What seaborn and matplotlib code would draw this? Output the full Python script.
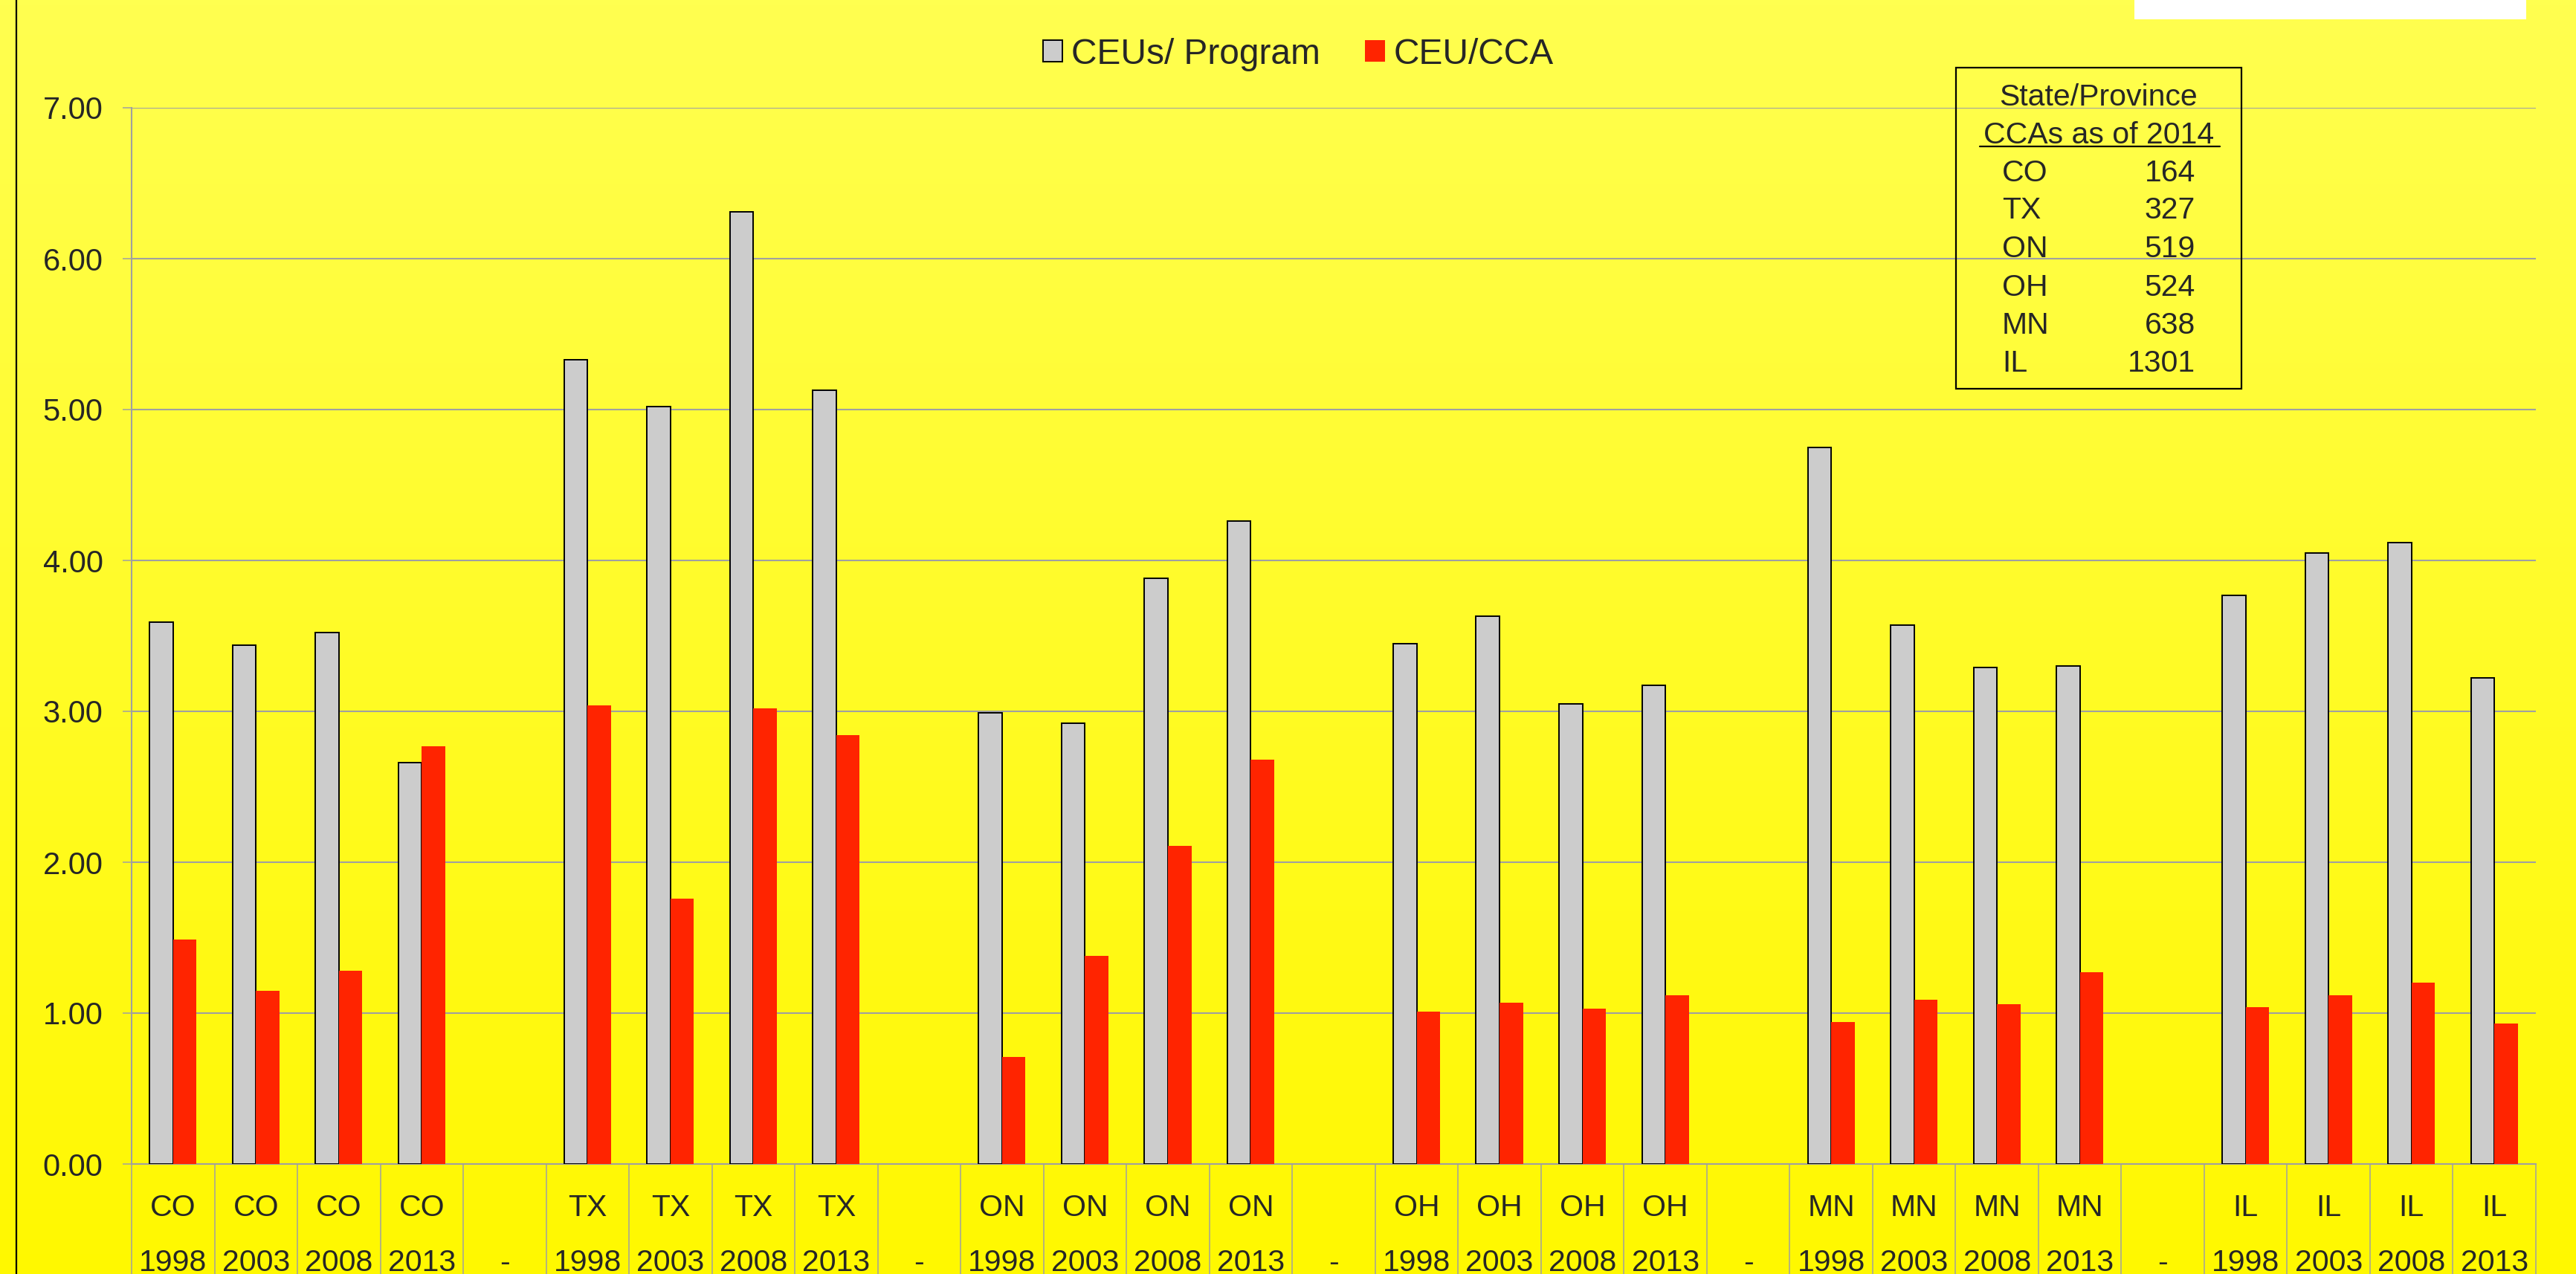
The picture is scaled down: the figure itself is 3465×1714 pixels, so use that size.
import numpy as np
import pandas as pd
import matplotlib
matplotlib.use("Agg")
import matplotlib.pyplot as plt
import seaborn as sns
from matplotlib.patches import Rectangle
from matplotlib.lines import Line2D

sns.set_style("white")
plt.rcParams['font.family'] = ['Liberation Sans', 'DejaVu Sans']

states = ['CO', 'TX', 'ON', 'OH', 'MN', 'IL']
years = ['1998', '2003', '2008', '2013']
ceus_per_program = [3.59, 3.44, 3.52, 2.66,
                    5.33, 5.02, 6.31, 5.13,
                    2.99, 2.92, 3.88, 4.26,
                    3.45, 3.63, 3.05, 3.17,
                    4.75, 3.57, 3.29, 3.30,
                    3.77, 4.05, 4.12, 3.22]
ceu_per_cca = [1.49, 1.15, 1.28, 2.77,
               3.04, 1.76, 3.02, 2.84,
               0.71, 1.38, 2.11, 2.68,
               1.01, 1.07, 1.03, 1.12,
               0.94, 1.09, 1.06, 1.27,
               1.04, 1.12, 1.20, 0.93]
cca_states = ['CO', 'TX', 'ON', 'OH', 'MN', 'IL']
cca_counts = [164, 327, 519, 524, 638, 1301]

series_names = ['CEUs/ Program', 'CEU/CCA']
colors = {'CEUs/ Program': '#CCCCCC', 'CEU/CCA': '#FF2400'}

# positions: groups of 4 with one empty "-" slot in between
rows = []
for i, s in enumerate(states):
    for j, y in enumerate(years):
        k = i * 4 + j
        pos = i * 5 + j
        rows.append((pos, series_names[0], ceus_per_program[k]))
        rows.append((pos, series_names[1], ceu_per_cca[k]))
df = pd.DataFrame(rows, columns=['pos', 'series', 'value'])

n_slots = len(states) * 5 - 1
tick_labels = []
for p in range(n_slots):
    if p % 5 == 4:
        tick_labels.append("\n-")
    else:
        tick_labels.append(f"{states[p // 5]}\n{years[p % 5]}")

W, H = 3465, 1714
fig = plt.figure(figsize=(W / 100, H / 100), dpi=100)

# gradient background
bg = fig.add_axes([0, 0, 1, 1], zorder=-10)
grad = np.linspace(0, 1, 256).reshape(-1, 1)
top = np.array([255, 255, 80]) / 255
bot = np.array([255, 248, 0]) / 255
img = top[None, None, :] * (1 - grad[:, :, None]) + bot[None, None, :] * grad[:, :, None]
bg.imshow(img, aspect='auto', extent=[0, 1, 0, 1])
bg.axis('off')

ax = fig.add_axes([177 / W, 1 - 1566 / H, (3411 - 177) / W, (1566 - 145) / H])
ax.patch.set_alpha(0)

sns.barplot(data=df, x='pos', y='value', hue='series', hue_order=series_names,
            palette=colors, native_scale=True, width=0.566, saturation=1,
            errorbar=None, legend=False, ax=ax, zorder=3)

for bar in ax.containers[0]:
    bar.set_edgecolor('black')
    bar.set_linewidth(1.4)
for bar in ax.containers[1]:
    bar.set_edgecolor('none')

ax.set_xlim(-0.5, n_slots - 0.5)
ax.set_ylim(0, 7)
ax.set_xlabel('')
ax.set_ylabel('')

grid_c = '#A0A0A0'
ax.set_yticks(range(8))
ax.set_yticklabels([f"{v:.2f}" for v in range(8)], fontsize=30)
ax.tick_params(axis='y', length=8.6, width=1.1, color=grid_c, pad=19, left=True)

ax.set_xticks(range(n_slots))
ax.set_xticklabels(tick_labels, fontsize=29.5, linespacing=2.2)
ax.tick_params(axis='x', which='major', length=0, pad=28.5)
ax.set_xticks(np.arange(-0.5, n_slots, 1), minor=True)
ax.tick_params(axis='x', which='minor', length=110, width=1.1, color=grid_c,
               direction='out', bottom=True)

ax.yaxis.grid(True, color=grid_c, linewidth=1.5)
ax.xaxis.grid(False)
ax.set_axisbelow(True)
for side in ['top', 'right']:
    ax.spines[side].set_visible(False)
for side in ['left', 'bottom']:
    ax.spines[side].set_color(grid_c)
    ax.spines[side].set_linewidth(1.5)

# legend
handles = [Rectangle((0, 0), 1, 1, facecolor=colors[series_names[0]], edgecolor='black', linewidth=1.4),
           Rectangle((0, 0), 1, 1, facecolor=colors[series_names[1]], edgecolor='none')]
fig.legend(handles, series_names, loc='center', bbox_to_anchor=(0.504, 1 - 73 / H),
           ncol=2, frameon=False, fontsize=34.5, handlelength=0.55, handleheight=0.55,
           handletextpad=0.25, columnspacing=1.25)

# info box
def fx(x):
    return x / W

def fy(y):
    return 1 - y / H

fig.patches.append(Rectangle((fx(2631), fy(523)), fx(3015) - fx(2631), fy(91) - fy(523),
                             transform=fig.transFigure, facecolor='none',
                             edgecolor='black', linewidth=1.6, zorder=5))
fig.text(fx(2823), fy(142), 'State/Province', ha='center', va='baseline', fontsize=29.5)
fig.text(fx(2823), fy(193), 'CCAs as of 2014', ha='center', va='baseline', fontsize=29.5)
fig.add_artist(Line2D([fx(2663), fx(2986)], [fy(197), fy(197)], color='black', linewidth=1.6))
row_y = [244, 294, 346, 398, 449, 500]
for s, c, yy in zip(cca_states, cca_counts, row_y):
    fig.text(fx(2693), fy(yy), s, ha='left', va='baseline', fontsize=29.5)
    fig.text(fx(2953), fy(yy), str(c), ha='right', va='baseline', fontsize=29.5)

# slide decorations
fig.add_artist(Line2D([fx(22), fx(22)], [0, 1], color='black', linewidth=1.6))
fig.patches.append(Rectangle((fx(2871), fy(26)), fx(3398) - fx(2871), 1 - fy(26),
                             transform=fig.transFigure, facecolor='white',
                             edgecolor='none', zorder=5))

fig.savefig('out.png', dpi=100)
